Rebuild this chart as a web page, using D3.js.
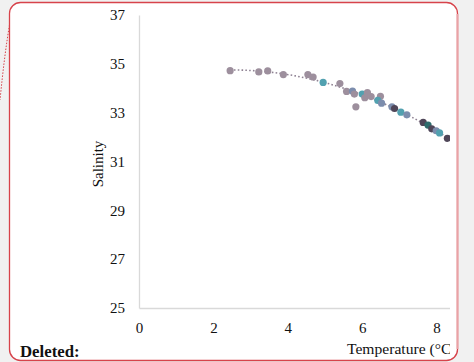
<!DOCTYPE html>
<html>
<head>
<meta charset="utf-8">
<script src="https://cdn.jsdelivr.net/npm/d3@7"></script>
<style>
  html, body { margin: 0; padding: 0; background: #f1f1f1; }
  svg { display: block; }
  text { font-family: "Liberation Serif", "Times New Roman", serif; }
</style>
</head>
<body>
<div id="chart"></div>
<script>
// values
const temperature = [2.45, 3.22, 3.46, 3.88, 4.54, 4.68, 4.95, 5.40, 5.58, 5.74,
  5.79, 5.83, 6.00, 6.07, 6.14, 6.24, 6.49, 6.42, 6.52, 6.80,
  6.87, 7.04, 7.20, 7.64, 7.77, 7.87, 7.99, 8.08, 8.29];
const salinity = [34.72, 34.67, 34.71, 34.56, 34.56, 34.46, 34.24, 34.19, 33.87, 33.88,
  33.76, 33.24, 33.76, 33.61, 33.82, 33.66, 33.67, 33.50, 33.39, 33.24,
  33.17, 33.02, 32.91, 32.60, 32.49, 32.34, 32.26, 32.17, 31.95];
// 0 mauve, 1 teal, 2 blue-grey, 3 dark, 4 dark teal
const group = [0, 0, 0, 0, 0, 0, 1, 0, 0, 2,
  0, 0, 1, 0, 0, 0, 0, 1, 2, 2,
  3, 1, 2, 3, 4, 3, 2, 1, 3];
const groupColors = ['#9d8f9d', '#52a1b0', '#7c8dad', '#4f4658', '#2e6c6d'];
const xTicks = [0, 2, 4, 6, 8];
const yTicks = [25, 27, 29, 31, 33, 35, 37];

const width = 474;
const height = 362;

const svg = d3.select('#chart')
  .append('svg')
  .attr('width', width)
  .attr('height', height);

svg.append('rect')
  .attr('width', width)
  .attr('height', height)
  .attr('fill', '#f1f1f1');

// comment connector on the far left
svg.append('path')
  .attr('d', 'M10,22 C6,45 3,70 0,100')
  .attr('fill', 'none')
  .attr('stroke', '#d7434b')
  .attr('stroke-width', 1)
  .attr('stroke-dasharray', '1.5,1.5');

// box
svg.append('rect')
  .attr('x', 9.5)
  .attr('y', 2.5)
  .attr('width', 448)
  .attr('height', 358)
  .attr('rx', 11)
  .attr('fill', '#fff')
  .attr('stroke', '#d7434b')
  .attr('stroke-width', 1.3);

svg.append('line')
  .attr('x1', 457.5).attr('x2', 457.5)
  .attr('y1', 14).attr('y2', 349)
  .attr('stroke', '#e9a2a6')
  .attr('stroke-width', 2);

svg.append('defs').append('clipPath')
  .attr('id', 'clip')
  .append('rect')
  .attr('x', 0).attr('y', 0)
  .attr('width', 450).attr('height', height);

const g = svg.append('g').attr('clip-path', 'url(#clip)');

const x = d3.scaleLinear().domain([0, 10]).range([139, 511]);
const y = d3.scaleLinear().domain([25, 37]).range([308, 15]);

const xAxis = g.append('g')
  .attr('transform', `translate(0,${y(25)})`)
  .call(d3.axisBottom(x).tickValues(xTicks).tickSize(0).tickPadding(14));
xAxis.select('.domain').attr('stroke', '#d9d9d9').attr('stroke-width', 1.3);
xAxis.selectAll('text').attr('font-size', 15).attr('fill', '#111')
  .style('font-family', '"Liberation Serif", serif');

const yAxis = g.append('g')
  .attr('transform', `translate(${x(0)},0)`)
  .call(d3.axisLeft(y).tickValues(yTicks).tickSize(0).tickPadding(14));
yAxis.select('.domain').attr('stroke', '#d9d9d9').attr('stroke-width', 1.3);
yAxis.selectAll('text').attr('font-size', 15).attr('fill', '#111')
  .style('font-family', '"Liberation Serif", serif');

// quadratic trendline fitted to the points
const n = temperature.length;
let s = [0, 0, 0, 0, 0], t = [0, 0, 0];
for (let i = 0; i < n; i++) {
  const xv = temperature[i], yv = salinity[i];
  for (let k = 0; k < 5; k++) s[k] += Math.pow(xv, k);
  for (let k = 0; k < 3; k++) t[k] += yv * Math.pow(xv, k);
}
const M = [[s[0], s[1], s[2], t[0]], [s[1], s[2], s[3], t[1]], [s[2], s[3], s[4], t[2]]];
for (let c = 0; c < 3; c++) {
  for (let r = c + 1; r < 3; r++) {
    const f = M[r][c] / M[c][c];
    for (let k = c; k < 4; k++) M[r][k] -= f * M[c][k];
  }
}
const coef = [0, 0, 0];
for (let r = 2; r >= 0; r--) {
  let v = M[r][3];
  for (let k = r + 1; k < 3; k++) v -= M[r][k] * coef[k];
  coef[r] = v / M[r][r];
}
const tMin = d3.min(temperature), tMax = d3.max(temperature);
const trend = d3.range(0, 41).map(i => {
  const tv = tMin + (tMax - tMin) * i / 40;
  return [tv, coef[0] + coef[1] * tv + coef[2] * tv * tv];
});
g.append('path')
  .datum(trend)
  .attr('d', d3.line().x(d => x(d[0])).y(d => y(d[1])))
  .attr('fill', 'none')
  .attr('stroke', '#8f8293')
  .attr('stroke-width', 1.6)
  .attr('stroke-dasharray', '1.6,2.2');

g.selectAll('circle.pt')
  .data(d3.range(n))
  .enter()
  .append('circle')
  .attr('class', 'pt')
  .attr('cx', i => x(temperature[i]))
  .attr('cy', i => y(salinity[i]))
  .attr('r', 3.6)
  .attr('fill', i => groupColors[group[i]]);

g.append('text')
  .attr('transform', 'translate(102.5,164) rotate(-90)')
  .attr('text-anchor', 'middle')
  .attr('font-size', 15)
  .attr('fill', '#111')
  .text('Salinity');

g.append('text')
  .attr('x', 347)
  .attr('y', 354)
  .attr('font-size', 15.6)
  .attr('fill', '#111')
  .text('Temperature (°C)');

svg.append('text')
  .attr('x', 20)
  .attr('y', 356.5)
  .attr('font-size', 16.8)
  .attr('font-weight', 'bold')
  .attr('fill', '#111')
  .text('Deleted:');
</script>
</body>
</html>
